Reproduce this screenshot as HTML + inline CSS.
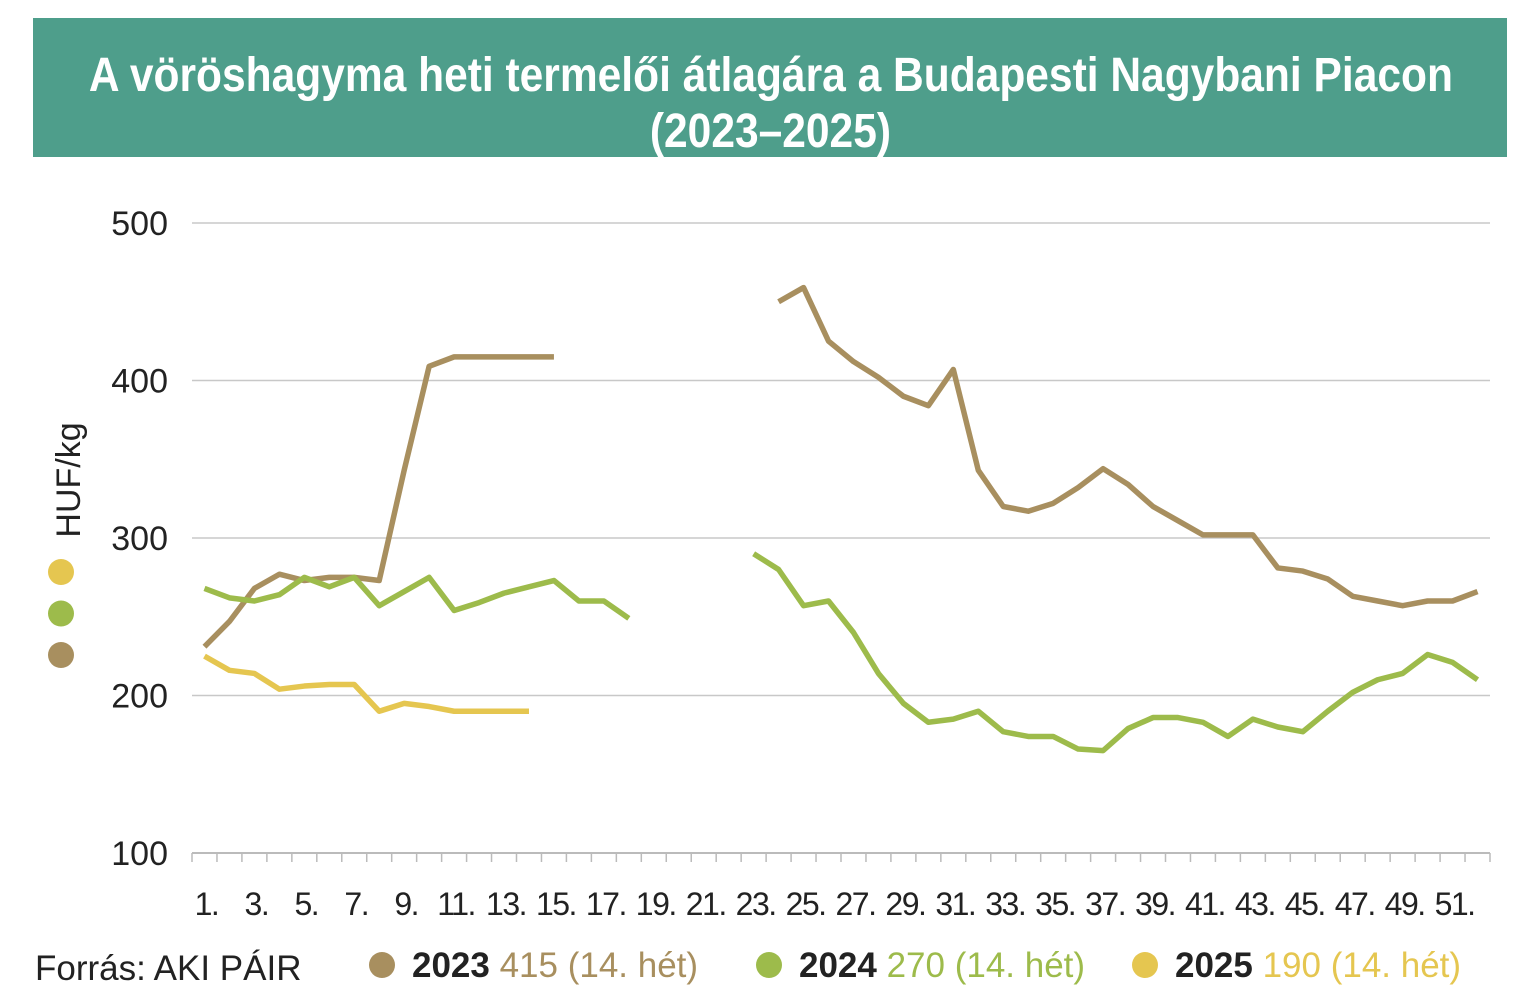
<!DOCTYPE html>
<html><head><meta charset="utf-8"><style>
body{margin:0;background:#fff;width:1537px;height:1006px;overflow:hidden;font-family:"Liberation Sans",sans-serif;}
#banner{position:absolute;left:33px;top:18px;width:1474px;height:139px;background:#4e9e8b;color:#fff;text-align:center;font-weight:bold;font-size:46px;line-height:56px;padding-top:28px;box-sizing:border-box;}
#banner span{display:inline-block;white-space:nowrap;transform-origin:center;}
</style></head><body>
<div id="banner"><span id="t1">A vöröshagyma heti termelői átlagára a Budapesti Nagybani Piacon</span><br><span id="t2">(2023–2025)</span></div>
<svg id="chart" width="1537" height="1006" style="position:absolute;left:0;top:0"></svg>
<script>
(function(){const t1=document.getElementById('t1'),t2=document.getElementById('t2');const s=1364/t1.getBoundingClientRect().width;t1.style.transform='scale('+s+',1.05)';t2.style.transform='scale('+s+',1.05)';})();
const weeks=Array.from({length:52},(_,i)=>i+1);
const yTicks=[100,200,300,400,500];
const s2023=[231,247,268,277,273,275,275,273,343,409,415,415,415,415,415,null,null,null,null,null,null,null,null,450,459,425,412,402,390,384,407,343,320,317,322,332,344,334,320,311,302,302,302,281,279,274,263,260,257,260,260,266];
const s2024=[268,262,260,264,275,269,275,257,266,275,254,259,265,269,273,260,260,249,null,null,null,null,290,280,257,260,240,214,195,183,185,190,177,174,174,166,165,179,186,186,183,174,185,180,177,190,202,210,214,226,221,210];
const s2025=[225,216,214,204,206,207,207,190,195,193,190,190,190,190,null,null,null,null,null,null,null,null,null,null,null,null,null,null,null,null,null,null,null,null,null,null,null,null,null,null,null,null,null,null,null,null,null,null,null,null,null,null];
const seriesNames=["2023","2024","2025"];
const seriesColors=["#a88f5f","#9dbb4b","#e5c650"];
const legendValues=["415 (14. hét)","270 (14. hét)","190 (14. hét)"];
const X0=192,X1=1490,Y0=853,Y1=223;
const bw=(X1-X0)/weeks.length;
const x=i=>X0+(i+0.5)*bw;
const y=v=>Y0-(v-100)/400*(Y0-Y1);
const svg=document.getElementById('chart');
const NS="http://www.w3.org/2000/svg";
function mk(t,a){const e=document.createElementNS(NS,t);for(const k in a)e.setAttribute(k,a[k]);svg.appendChild(e);return e;}
yTicks.forEach(v=>{
 if(v>100){const g=mk('line',{x1:X0,x2:X1,y1:y(v),y2:y(v),stroke:'#c8c8c8','stroke-width':1.5});
 
 }
 const t=mk('text',{x:168,y:y(v)+12,'text-anchor':'end','font-size':34,fill:'#222'});t.textContent=v;
 
 
});
const ax=mk('line',{x1:X0,x2:X1,y1:Y0,y2:Y0,stroke:'#bbb','stroke-width':2});


for(let i=0;i<=weeks.length;i++){const tk=mk('line',{x1:X0+i*bw,x2:X0+i*bw,y1:Y0,y2:Y0+9,stroke:'#bbb','stroke-width':1.5});
 
 }
weeks.forEach((w,i)=>{if(w%2===1){const t=mk('text',{x:x(i)+2,y:915,'text-anchor':'middle','font-size':32,fill:'#222','letter-spacing':'-1.5'});t.textContent=w+'.';
 
 }});
[s2023,s2024,s2025].forEach((s,k)=>{
 let d='',pen=false;
 s.forEach((v,i)=>{if(v==null){pen=false;return;}d+=(pen?'L':'M')+x(i)+','+y(v)+' ';pen=true;});
 const p=mk('path',{d:d,fill:'none',stroke:seriesColors[k],'stroke-width':5.5,'stroke-linejoin':'round'});
 
 
});
const yt=mk('text',{x:0,y:0,transform:'translate(80,480) rotate(-90)','text-anchor':'middle','font-size':34,fill:'#222'});yt.textContent='HUF/kg';


[2,1,0].forEach((k,j)=>{const c=mk('circle',{cx:61,cy:572+j*41.5,r:13,fill:seriesColors[k]});
 
 });
const src=mk('text',{x:35,y:980,'font-size':35,fill:'#222'});src.textContent='Forrás: AKI PÁIR';


const lx=[382,769,1145];
seriesNames.forEach((n,k)=>{
 const c=mk('circle',{cx:lx[k],cy:965,r:13,fill:seriesColors[k]});
 
 
 const t=mk('text',{x:lx[k]+30,y:977,'font-size':35,fill:'#222'});
 
 
 const b=document.createElementNS(NS,'tspan');b.setAttribute('font-weight','bold');b.textContent=n+' ';t.appendChild(b);
 const v=document.createElementNS(NS,'tspan');v.setAttribute('fill',seriesColors[k]);v.textContent=legendValues[k];t.appendChild(v);
});
</script>
</body></html>
